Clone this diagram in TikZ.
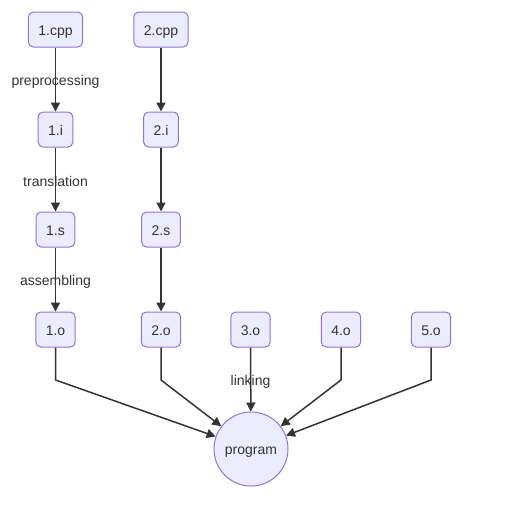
\documentclass[tikz,border=0pt]{standalone}
\usepackage{fontspec}
\setmainfont{Liberation Sans}
\usetikzlibrary{arrows.meta}
\definecolor{nodefill}{HTML}{ECECFF}
\definecolor{nodeline}{HTML}{9370DB}
\definecolor{edgecol}{HTML}{333333}
\begin{document}
\begin{tikzpicture}[x=1pt,y=-1pt,
  box/.style={draw=nodeline,fill=nodefill,line width=1pt,rounded corners=5pt,
    minimum height=35pt,inner xsep=10pt,inner ysep=0pt,text height=13pt,text depth=2pt,
    text=edgecol,font=\fontsize{14}{16}\selectfont},
  prog/.style={circle,draw=nodeline,fill=nodefill,line width=1pt,minimum size=74pt,
    inner sep=0pt,text height=13pt,text depth=2pt,text=edgecol,font=\fontsize{14}{16}\selectfont},
  edge/.style={draw=edgecol,line width=1.5pt,-{Triangle[length=9pt,width=9pt]}},
  elabel/.style={text=edgecol,font=\fontsize{14}{16}\selectfont,inner sep=0pt}]
\useasboundingbox (0,0) rectangle (523,512);
\node[box] (cpp1) at (55.5,29.5) {1.cpp};
\node[box] (cpp2) at (161,29.5) {2.cpp};
\node[box] (i1) at (55.5,129.5) {1.i};
\node[box] (i2) at (161,129.5) {2.i};
\node[box] (s1) at (55.5,229.5) {1.s};
\node[box] (s2) at (161,229.5) {2.s};
\node[box] (o1) at (55.5,329.5) {1.o};
\node[box] (o2) at (161,329.5) {2.o};
\node[box] (o3) at (250.5,329.5) {3.o};
\node[box] (o4) at (341,329.5) {4.o};
\node[box] (o5) at (431,329.5) {5.o};
\node[prog] (program) at (251,449) {program};
\coordinate (b1) at (55.5,380);
\coordinate (b2) at (161,380);
\coordinate (b4) at (341,380);
\coordinate (b5) at (431,380);
\draw[edge] (cpp1) -- (i1);
\draw[edge] (cpp2) -- (i2);
\draw[edge] (i1) -- (s1);
\draw[edge] (i2) -- (s2);
\draw[edge] (s1) -- (o1);
\draw[edge] (s2) -- (o2);
\draw[edge] (o1.south) -- (b1) -- (program);
\draw[edge] (o2.south) -- (b2) -- (program);
\draw[edge] (o3) -- (program);
\draw[edge] (o4.south) -- (b4) -- (program);
\draw[edge] (o5.south) -- (b5) -- (program);
\node[elabel] (l1) at (55.5,81.5) {preprocessing};
\node[elabel] (l2) at (55.5,181.5) {translation};
\node[elabel] (l3) at (55.5,281.5) {assembling};
\node[elabel] (l4) at (250.5,381.5) {linking};
\end{tikzpicture}
\end{document}
